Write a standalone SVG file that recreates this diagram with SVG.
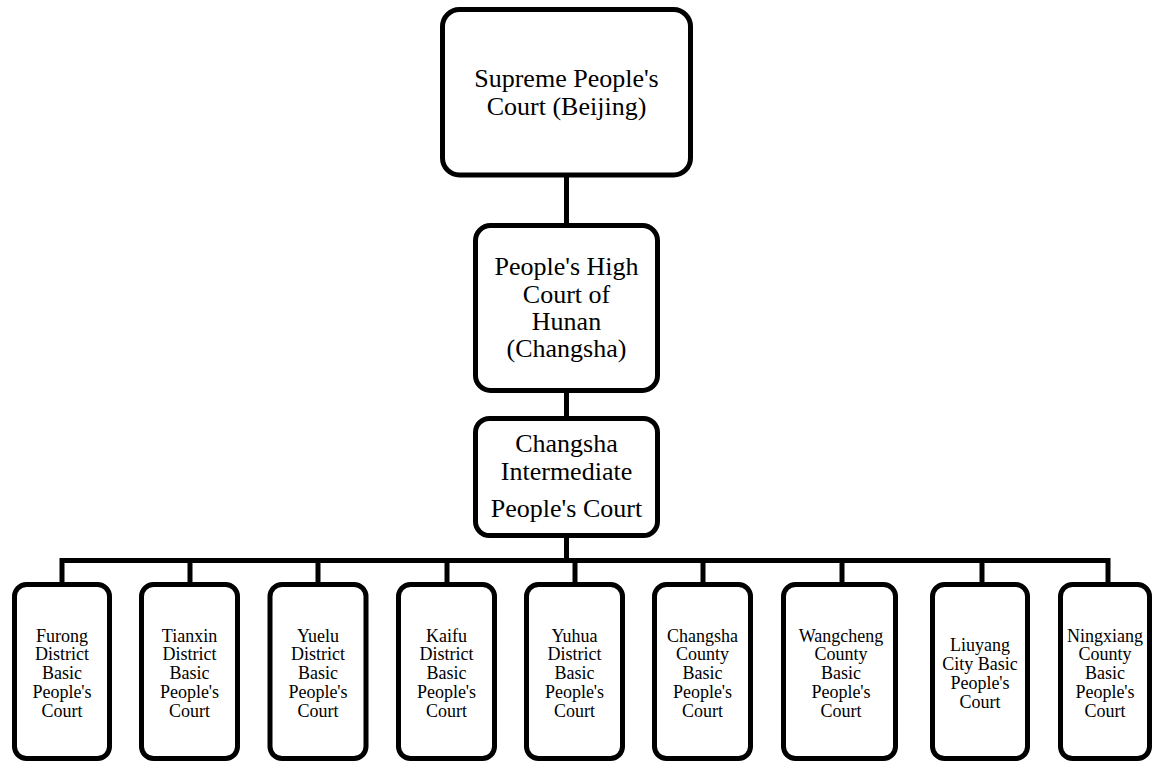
<svg xmlns="http://www.w3.org/2000/svg" width="1154" height="761" viewBox="0 0 1154 761">
<style>
.box{fill:#fff;stroke:#000;stroke-width:5}
.ln{fill:none;stroke:#000;stroke-width:5;stroke-linejoin:miter}
.t1{font-family:"Liberation Serif","Times New Roman",serif;font-size:26px;fill:#000;text-anchor:middle}
.t2{font-family:"Liberation Serif","Times New Roman",serif;font-size:18px;fill:#000;text-anchor:middle}
</style>
<rect width="1154" height="761" fill="#fff"/>
<g id="connectors">
<line class="ln" x1="566.5" y1="175" x2="566.5" y2="226"/>
<line class="ln" x1="566.5" y1="390" x2="566.5" y2="419"/>
<line class="ln" x1="566.5" y1="535" x2="566.5" y2="561"/>
<path class="ln" d="M62,585 V560.5 H1108 V585"/>
<line class="ln" x1="190" y1="560" x2="190" y2="585"/>
<line class="ln" x1="318" y1="560" x2="318" y2="585"/>
<line class="ln" x1="447" y1="560" x2="447" y2="585"/>
<line class="ln" x1="575" y1="560" x2="575" y2="585"/>
<line class="ln" x1="703" y1="560" x2="703" y2="585"/>
<line class="ln" x1="842" y1="560" x2="842" y2="585"/>
<line class="ln" x1="982" y1="560" x2="982" y2="585"/>
</g>
<g id="supreme">
<rect class="box" x="442.5" y="9.5" width="248" height="165.5" rx="17"/>
<text class="t1" x="566.5" y="87">Supreme People's</text>
<text class="t1" x="566.5" y="115">Court (Beijing)</text>
</g>
<g id="high">
<rect class="box" x="475.5" y="225.5" width="182" height="165" rx="15"/>
<text class="t1" x="566.5" y="275">People's High</text>
<text class="t1" x="566.5" y="302.5">Court of</text>
<text class="t1" x="566.5" y="330">Hunan</text>
<text class="t1" x="566.5" y="357">(Changsha)</text>
</g>
<g id="intermediate">
<rect class="box" x="475.5" y="418.5" width="182" height="117" rx="14"/>
<text class="t1" x="566.5" y="452">Changsha</text>
<text class="t1" x="566.5" y="480">Intermediate</text>
<text class="t1" x="566.5" y="517">People's Court</text>
</g>
<g id="furong">
<rect class="box" x="14.5" y="584.5" width="95" height="174" rx="12"/>
<text class="t2" x="62" y="641.5">Furong</text>
<text class="t2" x="62" y="660.4">District</text>
<text class="t2" x="62" y="679.3">Basic</text>
<text class="t2" x="62" y="698.2">People's</text>
<text class="t2" x="62" y="717.1">Court</text>
</g>
<g id="tianxin">
<rect class="box" x="141.5" y="584.5" width="96" height="174" rx="12"/>
<text class="t2" x="189.5" y="641.5">Tianxin</text>
<text class="t2" x="189.5" y="660.4">District</text>
<text class="t2" x="189.5" y="679.3">Basic</text>
<text class="t2" x="189.5" y="698.2">People's</text>
<text class="t2" x="189.5" y="717.1">Court</text>
</g>
<g id="yuelu">
<rect class="box" x="270" y="584.5" width="96" height="174" rx="12"/>
<text class="t2" x="318" y="641.5">Yuelu</text>
<text class="t2" x="318" y="660.4">District</text>
<text class="t2" x="318" y="679.3">Basic</text>
<text class="t2" x="318" y="698.2">People's</text>
<text class="t2" x="318" y="717.1">Court</text>
</g>
<g id="kaifu">
<rect class="box" x="398.5" y="584.5" width="96" height="174" rx="12"/>
<text class="t2" x="446.5" y="641.5">Kaifu</text>
<text class="t2" x="446.5" y="660.4">District</text>
<text class="t2" x="446.5" y="679.3">Basic</text>
<text class="t2" x="446.5" y="698.2">People's</text>
<text class="t2" x="446.5" y="717.1">Court</text>
</g>
<g id="yuhua">
<rect class="box" x="526.5" y="584.5" width="96" height="174" rx="12"/>
<text class="t2" x="574.5" y="641.5">Yuhua</text>
<text class="t2" x="574.5" y="660.4">District</text>
<text class="t2" x="574.5" y="679.3">Basic</text>
<text class="t2" x="574.5" y="698.2">People's</text>
<text class="t2" x="574.5" y="717.1">Court</text>
</g>
<g id="changsha-county">
<rect class="box" x="654.5" y="584.5" width="96" height="174" rx="12"/>
<text class="t2" x="702.5" y="641.5">Changsha</text>
<text class="t2" x="702.5" y="660.4">County</text>
<text class="t2" x="702.5" y="679.3">Basic</text>
<text class="t2" x="702.5" y="698.2">People's</text>
<text class="t2" x="702.5" y="717.1">Court</text>
</g>
<g id="wangcheng">
<rect class="box" x="783.5" y="584.5" width="112" height="174" rx="12"/>
<text class="t2" x="841" y="641.5">Wangcheng</text>
<text class="t2" x="841" y="660.4">County</text>
<text class="t2" x="841" y="679.3">Basic</text>
<text class="t2" x="841" y="698.2">People's</text>
<text class="t2" x="841" y="717.1">Court</text>
</g>
<g id="liuyang">
<rect class="box" x="932.5" y="584.5" width="95" height="174" rx="12"/>
<text class="t2" x="980" y="651">Liuyang</text>
<text class="t2" x="980" y="670">City Basic</text>
<text class="t2" x="980" y="689">People's</text>
<text class="t2" x="980" y="708">Court</text>
</g>
<g id="ningxiang">
<rect class="box" x="1060.5" y="584.5" width="89" height="174" rx="12"/>
<text class="t2" x="1105" y="641.5">Ningxiang</text>
<text class="t2" x="1105" y="660.4">County</text>
<text class="t2" x="1105" y="679.3">Basic</text>
<text class="t2" x="1105" y="698.2">People's</text>
<text class="t2" x="1105" y="717.1">Court</text>
</g>
</svg>
